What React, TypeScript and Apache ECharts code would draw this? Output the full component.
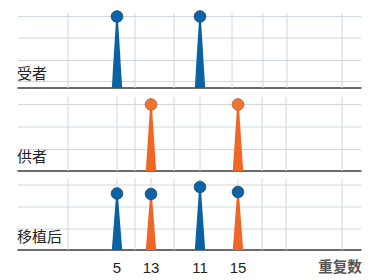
import React, { useEffect, useRef } from "react";
import * as echarts from "echarts";

// ---- data ----
const panelNames = ["受者", "供者", "移植后"];
const tickPositions = [117, 151, 200, 238, 340];
const tickLabels = ["5", "13", "11", "15", "重复数"];

// spikes: x position, height, source (0 = recipient/blue, 1 = donor/orange)
const recipientX = [117, 200];
const recipientH = [71.5, 71.5];
const donorX = [151, 238];
const donorH = [66.5, 66.5];
const postX = [117, 151, 200, 238];
const postH = [56.5, 56, 63, 58];
const postSource = [0, 1, 0, 1];

// grid lines
const vLines1 = [68, 117, 135, 174, 200, 232, 263, 287, 342];
const vLines23 = [68, 117, 135, 151, 174, 200, 238, 262, 286, 342];
const hLines1 = [6.5, 27.5, 50, 71.5];
const hLines2 = [21.5, 44, 66.5];
const hLines3 = [21, 43, 65];

const X_MIN = 18;
const X_MAX = 361;
const FILL = ["#0a62a5", "#ef6625"];
const DOT = ["#0b64a8", "#f07430"];
const DOT_STROKE = ["#1d3f63", "#a85a2c"];
const GRID_COLOR = "#cfd8e0";
const FONT = '"Liberation Sans", "Noto Sans CJK SC", sans-serif';

const grids = [
  { top: 13, height: 75 },
  { top: 97, height: 74 },
  { top: 178, height: 72 },
];

export default function App() {
  const ref = useRef<HTMLDivElement>(null);
  useEffect(() => {
    if (!ref.current) return;
    const chart = echarts.init(ref.current, undefined, { renderer: "svg" });

    const spikeData = [
      recipientX.map((x, i) => [x, recipientH[i], 0, 0]),
      donorX.map((x, i) => [x, donorH[i], 1, 1]),
      postX.map((x, i) => [x, postH[i], postSource[i], 0]),
    ];
    const vLines = [vLines1, vLines23, vLines23];
    const hLines = [hLines1, hLines2, hLines3];

    const series: any[] = [];
    grids.forEach((g, gi) => {
      const ymax = g.height;
      series.push({
        type: "custom",
        xAxisIndex: gi,
        yAxisIndex: gi,
        z: 1,
        silent: true,
        data: vLines[gi].map((v) => [v]),
        renderItem: (_p: any, api: any) => {
          const x = api.value(0);
          const a = api.coord([x, 0]);
          const b = api.coord([x, ymax]);
          return {
            type: "line",
            shape: { x1: a[0], y1: a[1], x2: b[0], y2: b[1] },
            style: { stroke: GRID_COLOR, lineWidth: 1 },
          };
        },
      });
      series.push({
        type: "custom",
        xAxisIndex: gi,
        yAxisIndex: gi,
        z: 1,
        silent: true,
        data: hLines[gi].map((v) => [v]),
        renderItem: (_p: any, api: any) => {
          const h = api.value(0);
          const a = api.coord([X_MIN, h]);
          const b = api.coord([X_MAX, h]);
          return {
            type: "line",
            shape: { x1: a[0], y1: a[1], x2: b[0], y2: b[1] },
            style: { stroke: GRID_COLOR, lineWidth: 1 },
          };
        },
      });
      series.push({
        type: "custom",
        xAxisIndex: gi,
        yAxisIndex: gi,
        z: 3,
        data: spikeData[gi],
        renderItem: (_p: any, api: any) => {
          const x = api.value(0);
          const h = api.value(1);
          const c = api.value(2);
          const cc = api.value(3);
          const b = api.coord([x, 0]);
          const t = api.coord([x, h]);
          return {
            type: "group",
            children: [
              {
                type: "polygon",
                shape: {
                  points: [
                    [b[0] - 5.2, b[1]],
                    [b[0] + 5.2, b[1]],
                    [t[0] + 0.8, t[1]],
                    [t[0] - 0.8, t[1]],
                  ],
                },
                style: { fill: FILL[c] },
              },
              {
                type: "circle",
                shape: { cx: t[0], cy: t[1], r: 5.8 },
                style: { fill: DOT[cc], stroke: DOT_STROKE[cc], lineWidth: 0.8 },
              },
            ],
          };
        },
      });
    });

    chart.setOption({
      animation: false,
      title: [
        { text: panelNames[0], left: 17, top: 64 },
        { text: panelNames[1], left: 17, top: 147 },
        { text: panelNames[2], left: 17, top: 227 },
      ].map((t) => ({
        ...t,
        padding: 0,
        textStyle: {
          fontSize: 15,
          fontWeight: "normal",
          color: "#222",
          fontFamily: FONT,
          lineHeight: 18,
        },
      })),
      grid: grids.map((g) => ({ left: X_MIN, width: X_MAX - X_MIN, top: g.top, height: g.height })),
      xAxis: grids.map((_g, gi) => ({
        type: "value",
        gridIndex: gi,
        min: X_MIN,
        max: X_MAX,
        axisLine: { show: true, lineStyle: { color: "#3c3c3c", width: 1.5 } },
        axisTick: { show: false },
        splitLine: { show: false },
        axisLabel:
          gi === 2
            ? {
                show: true,
                customValues: tickPositions,
                margin: 10,
                fontSize: 15,
                color: "#222",
                fontFamily: FONT,
                formatter: (v: number) => {
                  const i = tickPositions.indexOf(v);
                  if (i < 0) return "";
                  return i === tickPositions.length - 1 ? `{n|${tickLabels[i]}}` : tickLabels[i];
                },
                rich: {
                  n: { fontSize: 14.5, color: "#555", fontWeight: "bold", fontFamily: FONT },
                },
              }
            : { show: false },
      })),
      yAxis: grids.map((g, gi) => ({
        type: "value",
        gridIndex: gi,
        min: 0,
        max: g.height,
        show: false,
      })),
      series,
    });
    return () => chart.dispose();
  }, []);
  return (
    <div
      ref={ref}
      style={{ position: "fixed", left: 0, top: 0, width: 373, height: 280, background: "#fff" }}
    />
  );
}
